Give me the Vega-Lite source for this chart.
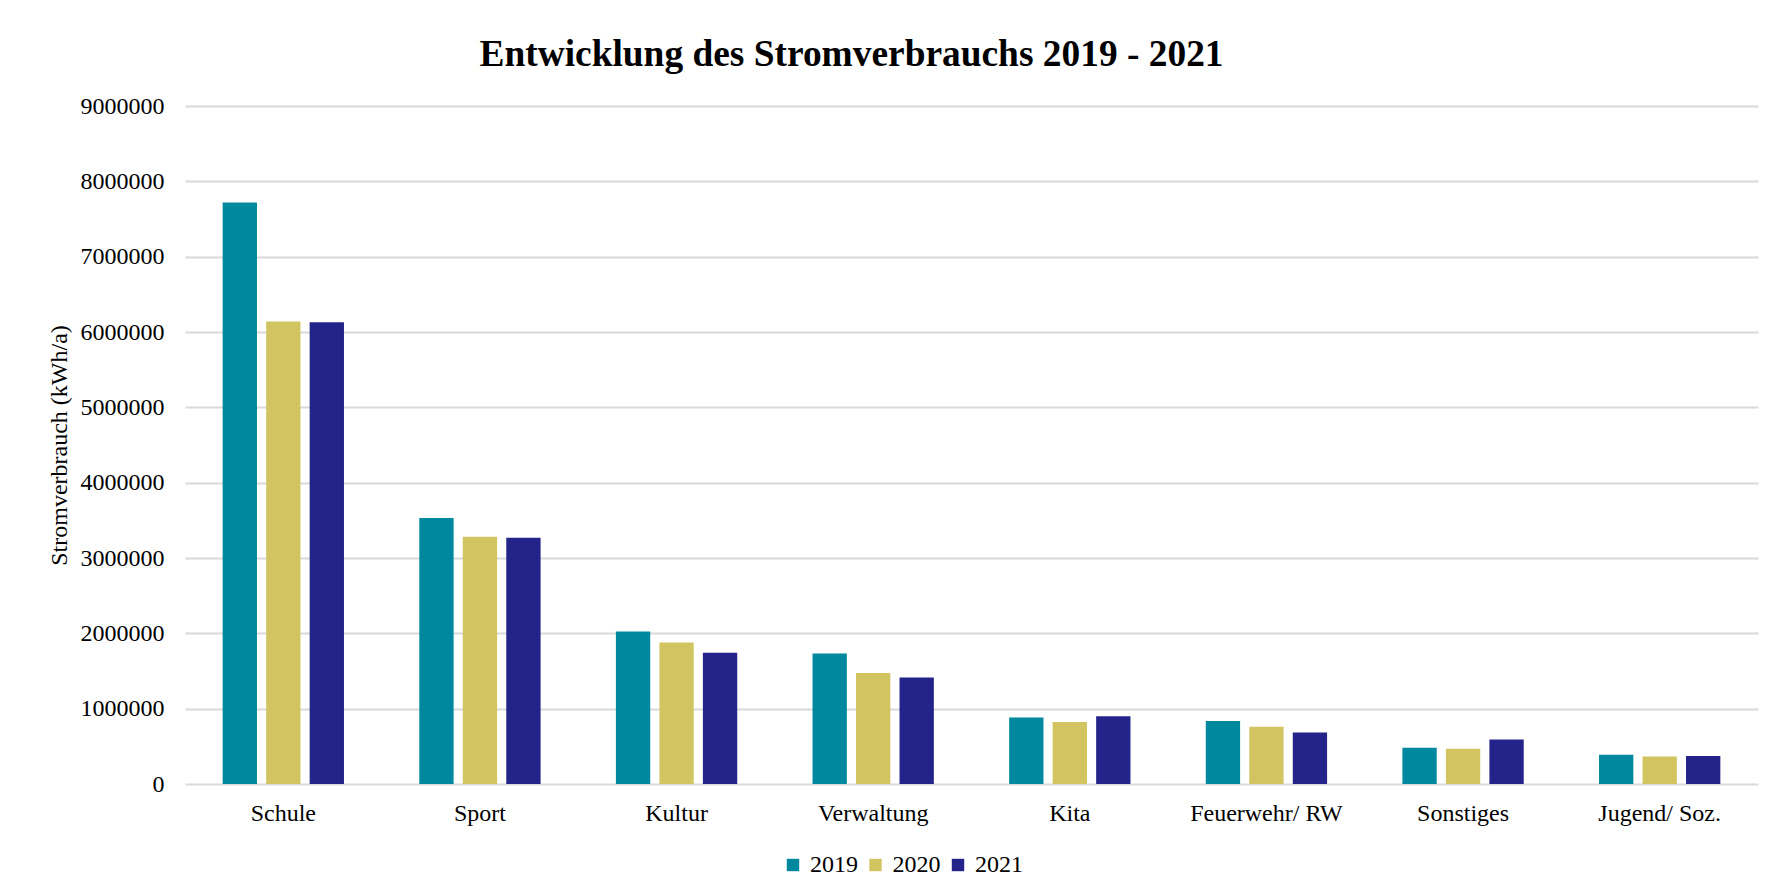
{
  "$schema": "https://vega.github.io/schema/vega-lite/v6.json",
  "width": 1573,
  "height": 678,
  "autosize": {"type": "none"},
  "padding": {"left": 185, "top": 106, "right": 10, "bottom": 110},
  "background": "white",
  "title": {
    "text": "Entwicklung des Stromverbrauchs 2019 - 2021",
    "font": "Liberation Serif",
    "fontSize": 37.4,
    "fontWeight": "bold",
    "color": "#000000",
    "anchor": "middle",
    "frame": "group",
    "dx": -120,
    "baseline": "alphabetic",
    "offset": -9
  },
  "data": {
    "values": [
      {"Bereich": "Schule", "Jahr": "2019", "Verbrauch": 7718000},
      {"Bereich": "Schule", "Jahr": "2020", "Verbrauch": 6138000},
      {"Bereich": "Schule", "Jahr": "2021", "Verbrauch": 6130000},
      {"Bereich": "Sport", "Jahr": "2019", "Verbrauch": 3530000},
      {"Bereich": "Sport", "Jahr": "2020", "Verbrauch": 3282000},
      {"Bereich": "Sport", "Jahr": "2021", "Verbrauch": 3269000},
      {"Bereich": "Kultur", "Jahr": "2019", "Verbrauch": 2024000},
      {"Bereich": "Kultur", "Jahr": "2020", "Verbrauch": 1878000},
      {"Bereich": "Kultur", "Jahr": "2021", "Verbrauch": 1741000},
      {"Bereich": "Verwaltung", "Jahr": "2019", "Verbrauch": 1732000},
      {"Bereich": "Verwaltung", "Jahr": "2020", "Verbrauch": 1472000},
      {"Bereich": "Verwaltung", "Jahr": "2021", "Verbrauch": 1415000},
      {"Bereich": "Kita", "Jahr": "2019", "Verbrauch": 883000},
      {"Bereich": "Kita", "Jahr": "2020", "Verbrauch": 824000},
      {"Bereich": "Kita", "Jahr": "2021", "Verbrauch": 898000},
      {"Bereich": "Feuerwehr/ RW", "Jahr": "2019", "Verbrauch": 836000},
      {"Bereich": "Feuerwehr/ RW", "Jahr": "2020", "Verbrauch": 760000},
      {"Bereich": "Feuerwehr/ RW", "Jahr": "2021", "Verbrauch": 684000},
      {"Bereich": "Sonstiges", "Jahr": "2019", "Verbrauch": 480000},
      {"Bereich": "Sonstiges", "Jahr": "2020", "Verbrauch": 467000},
      {"Bereich": "Sonstiges", "Jahr": "2021", "Verbrauch": 591000},
      {"Bereich": "Jugend/ Soz.", "Jahr": "2019", "Verbrauch": 387000},
      {"Bereich": "Jugend/ Soz.", "Jahr": "2020", "Verbrauch": 364000},
      {"Bereich": "Jugend/ Soz.", "Jahr": "2021", "Verbrauch": 373000}
    ]
  },
  "mark": {"type": "bar"},
  "encoding": {
    "x": {
      "field": "Bereich",
      "type": "nominal",
      "sort": null,
      "scale": {"paddingInner": 0.383, "paddingOuter": 0.1915},
      "axis": {
        "title": null,
        "labelAngle": 0,
        "labelFont": "Liberation Serif",
        "labelFontSize": 24,
        "labelColor": "#000000",
        "labelPadding": 17,
        "ticks": false,
        "domain": false,
        "grid": false
      }
    },
    "xOffset": {
      "field": "Jahr",
      "type": "nominal",
      "scale": {"paddingInner": 0.211, "paddingOuter": 0}
    },
    "y": {
      "field": "Verbrauch",
      "type": "quantitative",
      "scale": {"domain": [0, 9000000], "nice": false, "zero": true},
      "axis": {
        "title": "Stromverbrauch (kWh/a)",
        "titleFont": "Liberation Serif",
        "titleFontSize": 24,
        "titleFontWeight": "normal",
        "titleColor": "#000000",
        "titleAngle": -90,
        "titleX": -119,
        "titleY": 339,
        "titleAlign": "center",
        "titleBaseline": "alphabetic",
        "values": [0, 1000000, 2000000, 3000000, 4000000, 5000000, 6000000, 7000000, 8000000, 9000000],
        "format": "d",
        "labelFont": "Liberation Serif",
        "labelFontSize": 24,
        "labelColor": "#000000",
        "labelPadding": 21,
        "ticks": false,
        "domain": false,
        "grid": true,
        "gridColor": "#d9d9d9",
        "gridWidth": 2
      }
    },
    "color": {
      "field": "Jahr",
      "type": "nominal",
      "scale": {"domain": ["2019", "2020", "2021"], "range": ["#00889F", "#D2C561", "#23238A"]},
      "legend": {
        "title": null,
        "orient": "none",
        "direction": "horizontal",
        "legendX": 596,
        "legendY": 747,
        "symbolType": "square",
        "symbolSize": 154,
        "symbolStrokeWidth": 0,
        "labelFont": "Liberation Serif",
        "labelFontSize": 24,
        "labelColor": "#000000",
        "labelOffset": 5,
        "columnPadding": 5.5
      }
    }
  },
  "config": {
    "font": "Liberation Serif",
    "view": {"stroke": null},
    "legend": {"labelFont": "Liberation Serif", "labelFontSize": 24}
  }
}
